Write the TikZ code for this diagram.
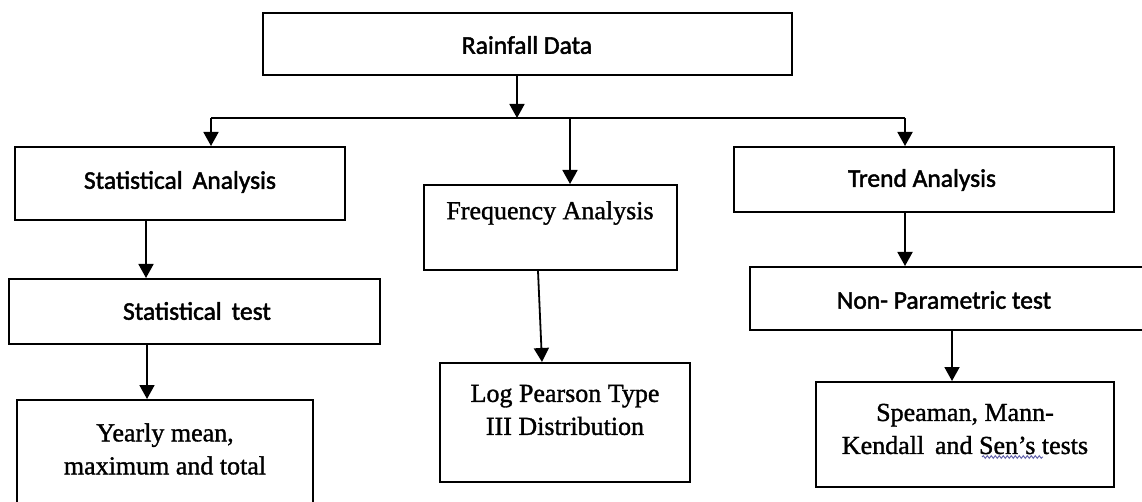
\documentclass[tikz,border=0pt]{standalone}
\usepackage{fontspec}
\setmainfont[FakeBold=1.2,AutoFakeBold=1.2]{Liberation Serif}
\newfontfamily\calib[FakeBold=1.8,AutoFakeBold=1.8]{Carlito}
\usetikzlibrary{arrows.meta,decorations.pathmorphing}
\tikzset{
  box/.style={draw, line width=2pt, inner sep=0pt},
  sanstxt/.style={font=\calib\fontsize{25.5}{30}\selectfont},
  seriftxt/.style={font=\fontsize{26}{33}\selectfont, align=center},
  arr/.style={line width=1.8pt, -{Triangle[length=14pt,width=15pt]}}
}
\begin{document}
\begin{tikzpicture}[x=1pt,y=-1pt]
\clip (0,0) rectangle (1142,502);
\fill[white] (0,0) rectangle (1142,502);
% boxes
\node[box, minimum width=529, minimum height=62] (rain) at (527.5,44) {};
\node[box, minimum width=330, minimum height=73] (statan) at (180,183.5) {};
\node[box, minimum width=253, minimum height=85] (freq) at (550.5,227.5) {};
\node[box, minimum width=380, minimum height=65] (trend) at (924,179.5) {};
\node[box, minimum width=371, minimum height=65] (stattest) at (194.5,311.5) {};
\node[box, minimum width=400, minimum height=63] (nonpar) at (950,298.5) {};
\node[box, minimum width=250, minimum height=119] (logp) at (565,422.5) {};
\node[box, minimum width=296, minimum height=120] (yearly) at (165,460) {};
\node[box, minimum width=298, minimum height=105] (spear) at (965,434.5) {};
% texts
\node[sanstxt] (raintxt) at (527,45) {\bfseries Rainfall Data};
\node[sanstxt] (statantxt) at (180,182) {\bfseries Statistical\, Analysis};
\node[sanstxt] (trendtxt) at (922,180) {\bfseries Trend Analysis};
\node[sanstxt] (stattesttxt) at (197,311) {\bfseries Statistical\, test};
\node[sanstxt] (nonpartxt) at (944,300) {\bfseries Non- Parametric test};
\node[seriftxt] (freqtxt) at (550,213) {\bfseries Frequency Analysis};
\node[seriftxt] (logptxt) at (565,410) {\bfseries Log Pearson Type\\III Distribution};
\node[seriftxt] (yearlytxt) at (165,449) {\bfseries Yearly mean,\\maximum and total};
\node[seriftxt] (speartxt) at (965,429) {\bfseries Speaman, Mann-\\Kendall\, and Sen’s tests};
% spelling mark
\draw[gray!70!blue, line width=0.9pt, decorate,
  decoration={snake, amplitude=1.3pt, segment length=4pt}] (982,457) -- (1043,457);
% connectors
\coordinate (bus) at (517,118);
\coordinate (busL) at (211,118);
\coordinate (busM) at (570,118);
\coordinate (busR) at (905,118);
\draw[arr] (rain.south -| bus) -- (bus);
\draw[line width=1.8pt] (busL) -- (busR);
\draw[arr] (busL) -- (busL |- statan.north);
\draw[arr] (busM) -- (busM |- freq.north);
\draw[arr] (busR) -- (busR |- trend.north);
\coordinate (sa1) at ([xshift=-34pt]statan.south);
\draw[arr] (sa1) -- (sa1 |- stattest.north);
\coordinate (st1) at ([xshift=-47.5pt]stattest.south);
\draw[arr] (st1) -- (st1 |- yearly.north);
\draw[arr] ([xshift=-12.5pt]freq.south) -- ([xshift=-23pt]logp.north);
\coordinate (tr1) at ([xshift=-19pt]trend.south);
\draw[arr] (tr1) -- (tr1 |- nonpar.north);
\coordinate (np1) at ([xshift=2pt]nonpar.south);
\draw[arr] (np1) -- (np1 |- spear.north);
\end{tikzpicture}
\end{document}
